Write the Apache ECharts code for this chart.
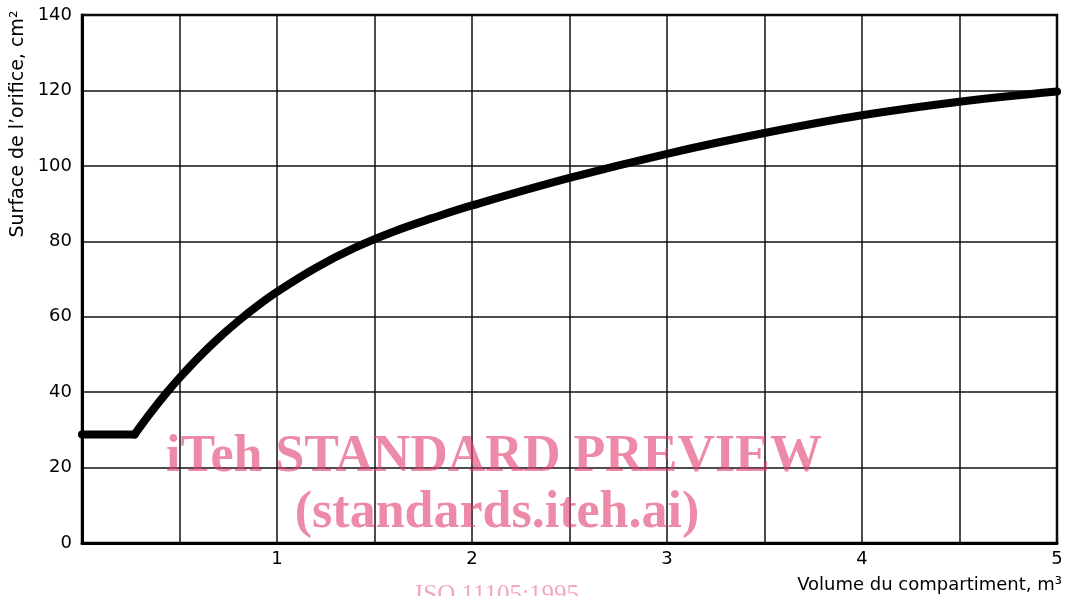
<!DOCTYPE html>
<html>
<head>
<meta charset="utf-8">
<script src="https://cdn.jsdelivr.net/npm/echarts@6/dist/echarts.min.js"></script>
<style>
html,body{margin:0;padding:0;background:#fff;}
#chart{width:1068px;height:596px;}
</style>
</head>
<body>
<div id="chart"></div>
<script>
// ---- Data ----
var flatX = [0, 0.27];
var flatY = [28.8, 28.8];
var curveX = [0.27, 0.35, 0.43, 0.5, 0.6, 0.7, 0.8, 0.9, 1.0, 1.2, 1.4, 1.6, 1.8, 2.0, 2.5, 3.0, 3.5, 4.0, 4.5, 5.0];
var curveY = [28.8, 34.4, 39.6, 43.8, 49.3, 54.3, 58.8, 62.9, 66.6, 73.0, 78.3, 82.6, 86.2, 89.5, 96.8, 103.2, 108.7, 113.4, 117.0, 119.7];
var xTickLabels = [1, 2, 3, 4, 5];
var yTickLabels = [0, 20, 40, 60, 80, 100, 120, 140];
var xAxisTitle = 'Volume du compartiment, m\u00B3';
var yAxisTitle = 'Surface de l\u2019orifice, cm\u00B2';
var watermark1 = 'iTeh STANDARD PREVIEW';
var watermark2 = '(standards.iteh.ai)';
var watermark3 = 'ISO 11105:1995';

function zip(xs, ys){ return xs.map(function(x,i){ return [x, ys[i]]; }); }

var chart = echarts.init(document.getElementById('chart'), null, {renderer:'canvas'});
var font = 'DejaVu Sans';
var option = {
  animation: false,
  backgroundColor: '#fff',
  grid: {left: 82, right: 11, top: 15, bottom: 53, show: true, borderColor: '#000', borderWidth: 2.5, backgroundColor: 'transparent'},
  xAxis: {
    type: 'value', min: 0, max: 5, interval: 0.5,
    axisLine: {show: true, onZero: false, lineStyle: {color: '#000', width: 3}},
    axisTick: {show: false},
    splitLine: {show: true, lineStyle: {color: '#111', width: 1.5}},
    axisLabel: {
      color: '#000', fontFamily: font, fontSize: 18, margin: 7,
      formatter: function(v){ return xTickLabels.indexOf(v) >= 0 ? String(v) : ''; }
    }
  },
  yAxis: {
    type: 'value', min: 0, max: 140, interval: 20,
    axisLine: {show: true, onZero: false, lineStyle: {color: '#000', width: 3}},
    axisTick: {show: false},
    splitLine: {show: true, lineStyle: {color: '#111', width: 1.5}},
    axisLabel: {
      color: '#000', fontFamily: font, fontSize: 18, margin: 10,
      formatter: function(v){ return yTickLabels.indexOf(v) >= 0 ? String(v) : ''; }
    }
  },
  series: [
    {type: 'line', data: zip(flatX, flatY), showSymbol: false, smooth: false,
     lineStyle: {color: '#000', width: 8, cap: 'round', join: 'round'}, z: 5},
    {type: 'line', data: zip(curveX, curveY), showSymbol: false, smooth: 0.4,
     lineStyle: {color: '#000', width: 8, cap: 'round', join: 'round'}, z: 5}
  ],
  graphic: [
    {type: 'text', x: 18, y: 124, rotation: Math.PI/2, z: 10,
     style: {text: yAxisTitle, fontFamily: font, fontSize: 19, fill: '#000', textAlign: 'center', textVerticalAlign: 'middle'}},
    {type: 'text', x: 1062, y: 585, z: 10,
     style: {text: xAxisTitle, fontFamily: font, fontSize: 18, fill: '#000', textAlign: 'right', textVerticalAlign: 'middle'}},
    {type: 'text', x: 494, y: 458, z: 20,
     style: {text: watermark1, fontFamily: 'Liberation Serif', fontWeight: 'bold', fontSize: 52, fill: 'rgba(225,60,110,0.6)', textAlign: 'center', textVerticalAlign: 'middle'}},
    {type: 'text', x: 497, y: 514, z: 20,
     style: {text: watermark2, fontFamily: 'Liberation Serif', fontWeight: 'bold', fontSize: 52, fill: 'rgba(225,60,110,0.6)', textAlign: 'center', textVerticalAlign: 'middle'}},
    {type: 'text', x: 497, y: 595, z: 20,
     style: {text: watermark3, fontFamily: 'Liberation Serif', fontSize: 25, fill: 'rgba(230,80,125,0.5)', textAlign: 'center', textVerticalAlign: 'middle'}}
  ]
};
chart.setOption(option);
</script>
</body>
</html>
